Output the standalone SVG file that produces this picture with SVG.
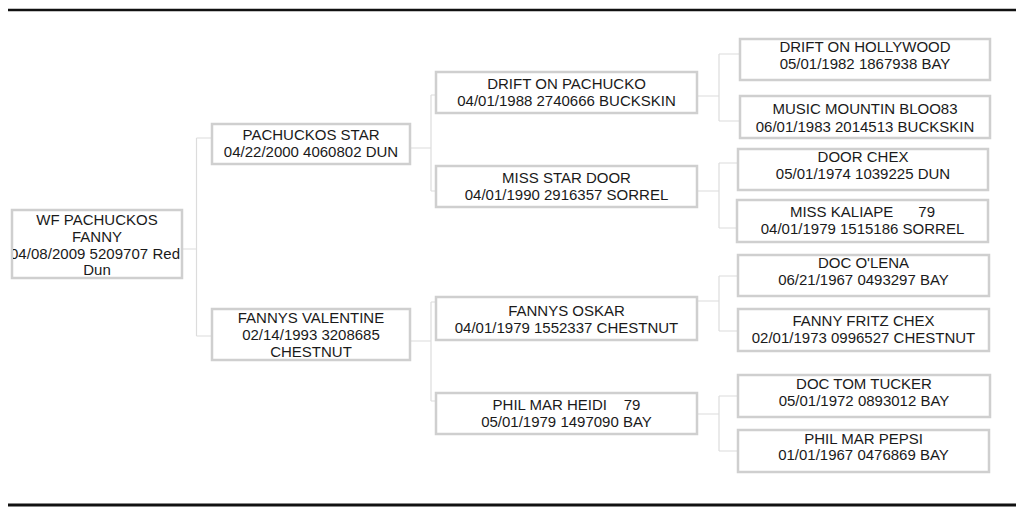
<svg xmlns="http://www.w3.org/2000/svg" width="1024" height="519" viewBox="0 0 1024 519">
<style>
.box{fill:#fff;stroke:#cfcfcf;stroke-width:2.5}
.t{font-family:"Liberation Sans",Arial,sans-serif;font-size:15px;fill:#1a1a1a;text-anchor:middle;white-space:pre}
.c{fill:none;stroke:#dcdcdc;stroke-width:1.2}
.rule{stroke:#111;stroke-width:2.5}
</style>
<defs>
<clipPath id="rootclip"><rect x="13" y="211" width="168" height="66"/></clipPath>
</defs>
<rect width="1024" height="519" fill="#fff"/>
<line class="rule" x1="8" y1="10" x2="1016" y2="10"/>
<line class="rule" x1="8" y1="505" x2="1016" y2="505" style="stroke-width:3"/>
<g id="connectors">
<path class="c" d="M182 249H196.5M196.5 138V336M196.5 138H212M196.5 336H212"/>
<path class="c" d="M410 148H431M431 95V191M431 95H436M431 191H436"/>
<path class="c" d="M410 341H431M431 302V401M431 302H436M431 401H436"/>
<path class="c" d="M697 96H719M719 54V121M719 54H740M719 121H740"/>
<path class="c" d="M697 191H719M719 163V228M719 163H738M719 228H737"/>
<path class="c" d="M697 301H719M719 276V331M719 276H738M719 331H738"/>
<path class="c" d="M697 414H719M719 396V451M719 396H738M719 451H738"/>
</g>
<g id="n-root">
<rect class="box" x="12" y="210" width="170" height="68"/>
<g clip-path="url(#rootclip)">
<text class="t" x="97" y="225">WF PACHUCKOS</text>
<text class="t" x="97" y="242">FANNY</text>
<text class="t" x="95" y="259" textLength="170" lengthAdjust="spacing">04/08/2009 5209707 Red</text>
<text class="t" x="97" y="275">Dun</text>
</g>
</g>
<g id="n-sire">
<rect class="box" x="212" y="124" width="198" height="40"/>
<text class="t" x="311" y="140">PACHUCKOS STAR</text>
<text class="t" x="311" y="157">04/22/2000 4060802 DUN</text>
</g>
<g id="n-dam">
<rect class="box" x="212" y="309" width="198" height="51"/>
<text class="t" x="311" y="323">FANNYS VALENTINE</text>
<text class="t" x="311" y="340">02/14/1993 3208685</text>
<text class="t" x="311" y="357">CHESTNUT</text>
</g>
<g id="n-ss">
<rect class="box" x="436" y="72" width="261" height="41"/>
<text class="t" x="566.5" y="89">DRIFT ON PACHUCKO</text>
<text class="t" x="566.5" y="106">04/01/1988 2740666 BUCKSKIN</text>
</g>
<g id="n-sd">
<rect class="box" x="436" y="166" width="261" height="41"/>
<text class="t" x="566.5" y="183">MISS STAR DOOR</text>
<text class="t" x="566.5" y="200">04/01/1990 2916357 SORREL</text>
</g>
<g id="n-ds">
<rect class="box" x="436" y="297" width="261" height="43"/>
<text class="t" x="566.5" y="316">FANNYS OSKAR</text>
<text class="t" x="566.5" y="333">04/01/1979 1552337 CHESTNUT</text>
</g>
<g id="n-dd">
<rect class="box" x="436" y="393" width="261" height="41"/>
<text class="t" x="566.5" y="410">PHIL MAR HEIDI    79</text>
<text class="t" x="566.5" y="427">05/01/1979 1497090 BAY</text>
</g>
<g id="n-sss">
<rect class="box" x="740" y="39" width="250" height="41"/>
<text class="t" x="865" y="52">DRIFT ON HOLLYWOOD</text>
<text class="t" x="865" y="69">05/01/1982 1867938 BAY</text>
</g>
<g id="n-ssd">
<rect class="box" x="740" y="96" width="250" height="42"/>
<text class="t" x="865" y="114">MUSIC MOUNTIN BLOO83</text>
<text class="t" x="865" y="132">06/01/1983 2014513 BUCKSKIN</text>
</g>
<g id="n-sds">
<rect class="box" x="738" y="149" width="250" height="41"/>
<text class="t" x="863" y="162">DOOR CHEX</text>
<text class="t" x="863" y="179">05/01/1974 1039225 DUN</text>
</g>
<g id="n-sdd">
<rect class="box" x="737" y="200" width="251" height="42"/>
<text class="t" x="862.5" y="217">MISS KALIAPE      79</text>
<text class="t" x="862.5" y="234">04/01/1979 1515186 SORREL</text>
</g>
<g id="n-dss">
<rect class="box" x="738" y="255" width="251" height="41"/>
<text class="t" x="863.5" y="268">DOC O'LENA</text>
<text class="t" x="863.5" y="285">06/21/1967 0493297 BAY</text>
</g>
<g id="n-dsd">
<rect class="box" x="738" y="309" width="251" height="42"/>
<text class="t" x="863.5" y="326">FANNY FRITZ CHEX</text>
<text class="t" x="863.5" y="343">02/01/1973 0996527 CHESTNUT</text>
</g>
<g id="n-dds">
<rect class="box" x="738" y="375" width="252" height="42"/>
<text class="t" x="864" y="389">DOC TOM TUCKER</text>
<text class="t" x="864" y="406">05/01/1972 0893012 BAY</text>
</g>
<g id="n-ddd">
<rect class="box" x="738" y="430" width="251" height="42"/>
<text class="t" x="863.5" y="444">PHIL MAR PEPSI</text>
<text class="t" x="863.5" y="460">01/01/1967 0476869 BAY</text>
</g>
</svg>
